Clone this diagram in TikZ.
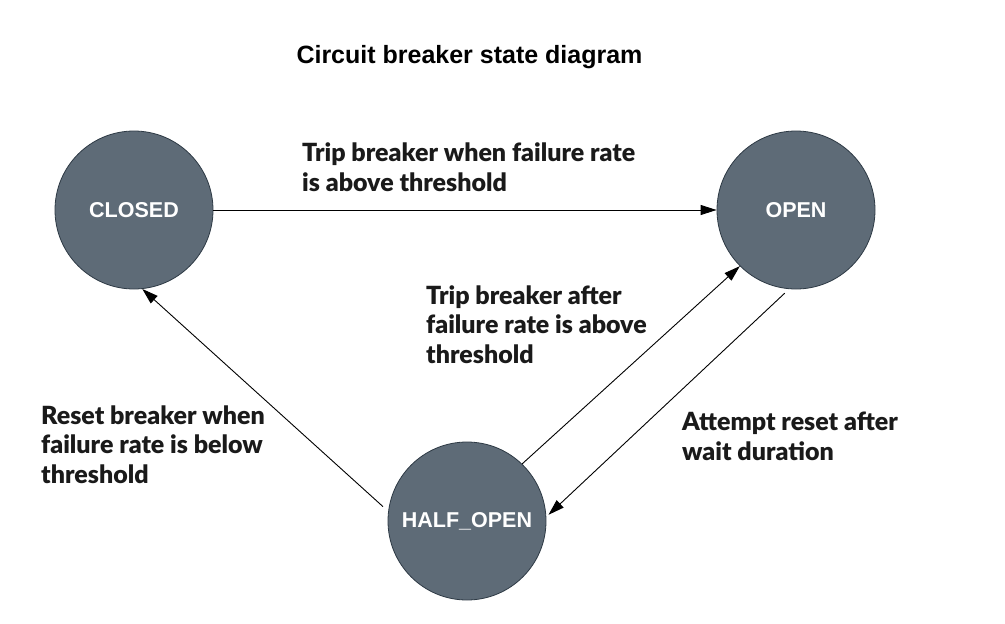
\documentclass[tikz,border=0pt]{standalone}
\usepackage{fontspec}
\setmainfont{Liberation Sans}
\newfontfamily\lbl{Lato}[BoldFont={Lato Black}]
\usetikzlibrary{arrows.meta}
\definecolor{statefill}{HTML}{5E6B77}
\definecolor{stateline}{HTML}{2E3A45}
\definecolor{ink}{HTML}{1A1A1A}
\tikzset{
  state/.style={circle, draw=stateline, line width=0.8pt, fill=statefill, minimum size=158pt, inner sep=0pt,
    text=white, font=\fontsize{21.5}{24}\selectfont\bfseries},
  arr/.style={draw=black, line width=0.9pt, -{Triangle[length=16pt,width=10pt]}},
  lab/.style={anchor=base west, align=left, inner sep=0pt, text=ink,
    font=\lbl\bfseries\fontsize{25}{29.5}\selectfont},
}
\begin{document}
\begin{tikzpicture}[x=1pt,y=-1pt]
\useasboundingbox[fill=white] (0,0) rectangle (1005,624);
\node[anchor=base, font=\fontsize{25}{30}\selectfont\bfseries] (title) at (469.5,63) {Circuit breaker state diagram};
\node[state] (closed) at (134,210) {CLOSED};
\node[state] (open) at (796,210) {OPEN};
\node[state] (half) at (467,521) {HALF\_OPEN};
\draw[arr] (closed) -- (open);
\draw[arr, shorten <=7pt] (half.173) -- (closed.-84);
\draw[arr] (half.46) -- (open.225);
\draw[arr, shorten <=6pt, shorten >=3pt] (open.265) -- (half.3.5);
\node[lab] (l1) at (302,191) {Trip breaker when failure rate\\is above threshold};
\node[lab] (l2) at (41,483) {Reset breaker when\\failure rate is below\\threshold};
\node[lab] (l3) at (426,363) {Trip breaker after\\failure rate is above\\threshold};
\node[lab] (l4) at (682,460) {Attempt reset after\\wait duration};
\end{tikzpicture}
\end{document}
